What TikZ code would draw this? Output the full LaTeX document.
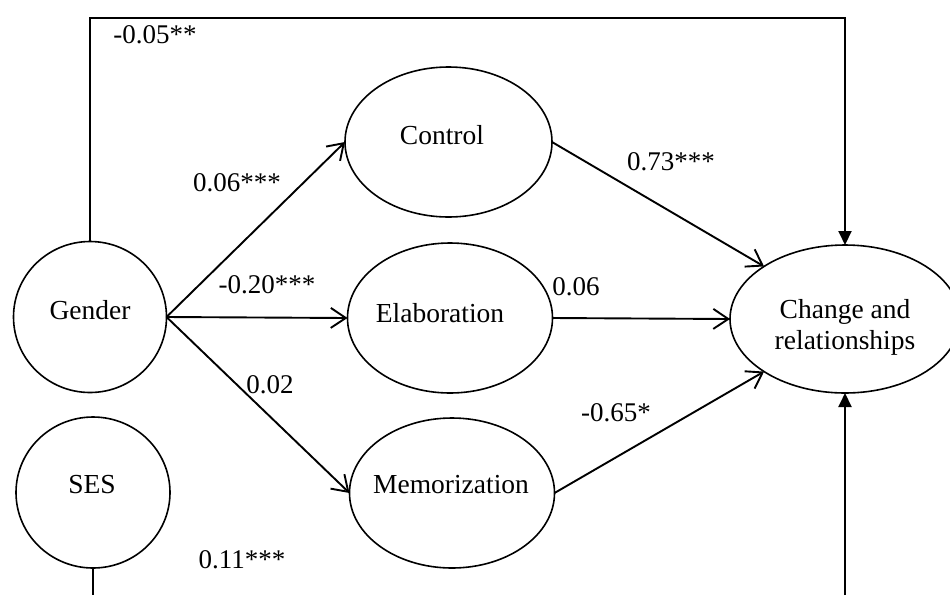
\documentclass[tikz,border=0pt]{standalone}
\usepackage{fontspec}
\setmainfont{Liberation Serif}
\usetikzlibrary{shapes.geometric,arrows.meta}
\begin{document}
\begin{tikzpicture}[x=1pt,y=-1pt,
  latent/.style={draw,ellipse,line width=1.6pt,inner sep=0pt,outer sep=0pt},
  txt/.style={inner sep=0pt,font=\fontsize{27.5}{31}\selectfont},
  coef/.style={inner sep=0pt,font=\fontsize{27}{31}\selectfont},
  path/.style={line width=1.9pt,-{Straight Barb[length=15pt,width=20pt,line width=1.9pt]}},
  direct/.style={line width=2pt,-{Triangle[length=14pt,width=13pt]}}]
\useasboundingbox (0,0) rectangle (950,595);

% variables
\node[latent,minimum width=153pt,minimum height=151pt] (gender) at (90,317) {};
\node[latent,minimum width=154pt,minimum height=151pt] (ses) at (93,492.5) {};
\node[latent,minimum width=207pt,minimum height=150pt] (control) at (448.5,142) {};
\node[latent,minimum width=205pt,minimum height=150pt] (elab) at (450,318) {};
\node[latent,minimum width=205pt,minimum height=150pt] (memo) at (452,493) {};
\node[latent,minimum width=230pt,minimum height=148pt] (change) at (845,319) {};

% variable names
\node[txt] (gendertxt) at (90,310) {Gender};
\node[txt] (sestxt) at (92,485) {SES};
\node[txt] (controltxt) at (442,135) {Control};
\node[txt] (elabtxt) at (440,313) {Elaboration};
\node[txt] (memotxt) at (451,485) {Memorization};
\node[txt,align=center] (changetxt) at (845,327.5) {Change and\\relationships};

% direct path from gender over the top
\coordinate (topline) at (0,18);
\draw[direct] (gender.north) -- (gender.north |- topline) -| (change.north);

% paths through the learning strategies
\draw[path] (gender.east) -- (control.west);
\draw[path] (gender.east) -- (elab.west);
\draw[path] (gender.east) -- (memo.west);
\draw[path] (control.east) -- (change.147);
\draw[path] (elab.east) -- (change.west);
\draw[path] (memo.east) -- (change.213);

% SES path running below the frame
\coordinate (sesout) at (93,595);
\coordinate (changein) at (845,595);
\draw[line width=2pt] (ses.south) -- (sesout);
\draw[direct] (changein) -- (change.south);

% coefficients
\node[coef] (c1) at (155,35) {-0.05**};
\node[coef] (c2) at (237,183) {0.06***};
\node[coef] (c3) at (267,285) {-0.20***};
\node[coef] (c4) at (270,385) {0.02};
\node[coef] (c5) at (671,162) {0.73***};
\node[coef] (c6) at (576,287) {0.06};
\node[coef] (c7) at (616,413) {-0.65*};
\node[coef] (c8) at (242,560) {0.11***};
\end{tikzpicture}
\end{document}
